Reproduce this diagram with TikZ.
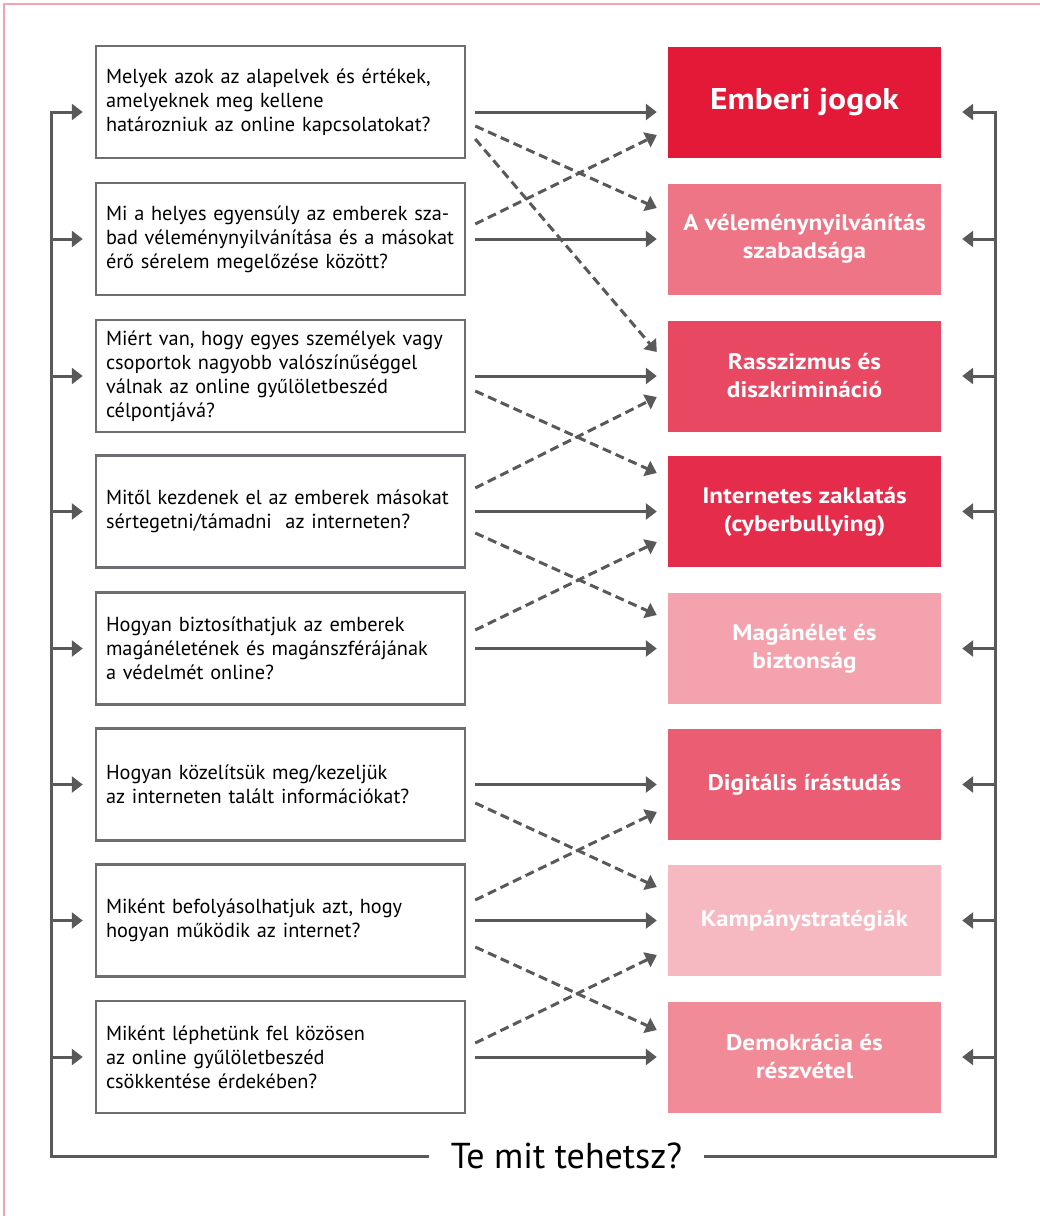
\documentclass[tikz,border=0pt]{standalone}
\usepackage{fontspec}
\setmainfont{PT Sans}
\newfontfamily\rbf{PT Sans}[FakeStretch=1.12]
\usetikzlibrary{arrows.meta}
\definecolor{ln}{HTML}{58595B}
\definecolor{bx}{HTML}{6D6E71}
\definecolor{framepink}{HTML}{F5A3B3}
\definecolor{cA}{HTML}{E31937}
\definecolor{cB}{HTML}{ED7585}
\definecolor{cC}{HTML}{E84862}
\definecolor{cD}{HTML}{E52D4B}
\definecolor{cE}{HTML}{F4A2AD}
\definecolor{cF}{HTML}{EB5D73}
\definecolor{cG}{HTML}{F6B9C2}
\definecolor{cH}{HTML}{F18B98}
\begin{document}
\begin{tikzpicture}[x=1pt,y=-1pt,
  qbox/.style={draw=bx, line width=2.5pt, minimum width=369pt, minimum height=112pt,
    text width=349pt, inner xsep=10pt, inner ysep=0pt, align=left,
    font=\fontsize{20.3}{24}\selectfont},
  rbox/.style={minimum width=273pt, minimum height=111pt, inner sep=0pt, align=center,
    text=white, font=\rbf\bfseries\fontsize{22.5}{28}\selectfont},
  arr/.style={draw=ln, line width=3pt, -{Triangle[length=11pt,width=16pt]}},
  darr/.style={arr, dash pattern=on 9pt off 5pt},
  loopline/.style={draw=ln, line width=3pt, line join=miter, -{Triangle[length=11pt,width=16pt]}}
]
\useasboundingbox (0,0) rectangle (1040,1216);
\fill[white] (0,0) rectangle (1040,1216);
\draw[draw=framepink, line width=1.5pt] (1040,4) -- (4,4) -- (4,1216);

% left question boxes
\node[qbox] (L1) at (280.5,102) {\mbox{Melyek azok az alapelvek és értékek,}\\amelyeknek meg kellene\\\mbox{határozniuk az online kapcsolatokat?}};
\node[qbox] (L2) at (280.5,239) {\mbox{Mi a helyes egyensúly az emberek sza-}\\\mbox{bad véleménynyilvánítása és a másokat}\\\mbox{érő sérelem megelőzése között?}};
\node[qbox] (L3) at (280.5,376) {\mbox{Miért van, hogy egyes személyek vagy}\\\mbox{csoportok nagyobb valószínűséggel}\\\mbox{válnak az online gyűlöletbeszéd}\\célpontjává?};
\node[qbox] (L4) at (280.5,511.5) {\mbox{Mitől kezdenek el az emberek másokat}\\\mbox{sértegetni/támadni\ \ az interneten?}};
\node[qbox] (L5) at (280.5,648.5) {\mbox{Hogyan biztosíthatjuk az emberek}\\\mbox{magánéletének és magánszférájának}\\\mbox{a védelmét online?}};
\node[qbox] (L6) at (280.5,784.5) {\mbox{Hogyan közelítsük meg/kezeljük}\\\mbox{az interneten talált információkat?}};
\node[qbox] (L7) at (280.5,920.5) {\mbox{Miként befolyásolhatjuk azt, hogy}\\\mbox{hogyan működik az internet?}};
\node[qbox] (L8) at (280.5,1057) {\mbox{Miként léphetünk fel közösen}\\\mbox{az online gyűlöletbeszéd}\\\mbox{csökkentése érdekében?}};

% right topic boxes
\node[rbox, fill=cA, font=\rbf\bfseries\fontsize{30}{34}\selectfont] (R1) at (804.5,102) {Emberi jogok};
\node[rbox, fill=cB] (R2) at (804.5,239) {A véleménynyilvánítás\\szabadsága};
\node[rbox, fill=cC] (R3) at (804.5,376) {Rasszizmus és\\diszkrimináció};
\node[rbox, fill=cD] (R4) at (804.5,511.5) {Internetes zaklatás\\(cyberbullying)};
\node[rbox, fill=cE] (R5) at (804.5,648.5) {Magánélet és\\biztonság};
\node[rbox, fill=cF] (R6) at (804.5,784.5) {Digitális írástudás};
\node[rbox, fill=cG] (R7) at (804.5,920.5) {Kampánystratégiák};
\node[rbox, fill=cH] (R8) at (804.5,1057) {Demokrácia és\\részvétel};

% solid arrows
\draw[arr] ([shift={(9,10)}]L1.east) -- ([shift={(-11,10)}]R1.west);
\foreach \i in {2,...,8} {
  \draw[arr] ([xshift=9pt]L\i.east) -- ([xshift=-11pt]R\i.west);
}

% dashed arrows
\draw[darr] ([shift={(9,24)}]L1.east) -- ([shift={(-11,-31)}]R2.west);
\draw[darr] ([shift={(9,37)}]L1.east) -- ([shift={(-11,-24)}]R3.west);
\draw[darr] ([shift={(9,-15)}]L2.east) -- ([shift={(-11,33)}]R1.west);
\draw[darr] ([shift={(9,15)}]L3.east) -- ([shift={(-11,-38.5)}]R4.west);
\draw[darr] ([shift={(9,-23.5)}]L4.east) -- ([shift={(-11,21)}]R3.west);
\draw[darr] ([shift={(9,21.5)}]L4.east) -- ([shift={(-11,-33.5)}]R5.west);
\draw[darr] ([shift={(9,-18.5)}]L5.east) -- ([shift={(-11,30.5)}]R4.west);
\draw[darr] ([shift={(9,18.5)}]L6.east) -- ([shift={(-11,-33.5)}]R7.west);
\draw[darr] ([shift={(9,-20.5)}]L7.east) -- ([shift={(-11,27.5)}]R6.west);
\draw[darr] ([shift={(9,26.5)}]L7.east) -- ([shift={(-11,-27)}]R8.west);
\draw[darr] ([shift={(9,-14)}]L8.east) -- ([shift={(-11,34.5)}]R7.west);

% feedback loop
\coordinate (lt) at (51,112);
\coordinate (lb) at (51,1156);
\coordinate (rt) at (995,112);
\coordinate (rb) at (995,1156);
\node[inner xsep=22pt, inner ysep=0pt, font=\fontsize{36}{40}\selectfont] (te) at (566.5,1156) {Te mit tehetsz?};
\draw[loopline] (te.west) -- (lb) -- (lt) -- ([shift={(-12,10)}]L1.west);
\draw[loopline] (te.east) -- (rb) -- (rt) -- ([shift={(21,10)}]R1.east);
\foreach \i in {2,...,8} {
  \draw[arr] (L\i.west -| lt) -- ([xshift=-12pt]L\i.west);
  \draw[arr] (R\i.east -| rt) -- ([xshift=21pt]R\i.east);
}
\end{tikzpicture}
\end{document}
